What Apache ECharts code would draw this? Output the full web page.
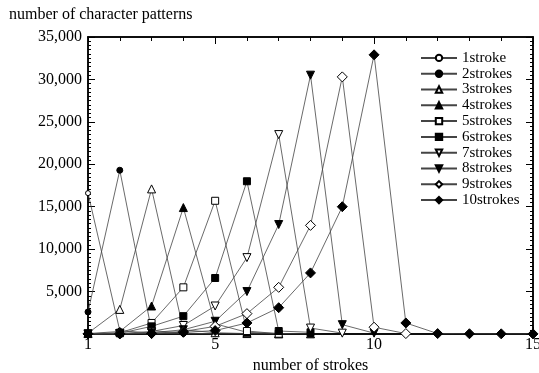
<!DOCTYPE html>
<html>
<head>
<meta charset="utf-8">
<script src="https://cdn.jsdelivr.net/npm/echarts@6/dist/echarts.min.js"></script>
<style>
  html, body { margin: 0; padding: 0; background: #fff; }
  #chart { width: 539px; height: 373px; }
</style>
</head>
<body>
<div id="chart"></div>
<script>
// x categories: number of strokes
const strokes = [1, 2, 3, 4, 5, 6, 7, 8, 9, 10, 11, 12, 13, 14, 15];
const xLabelValues = [1, 5, 10, 15];
const xLongTickValues = [5, 10, 15];
const yTickValues = [0, 5000, 10000, 15000, 20000, 25000, 30000, 35000];

// counts per series, the series stops where its list ends
const s1 = [16600, 400, 100, 30, 10];
const s2 = [2600, 19300, 400, 100, 30, 10];
const s3 = [100, 2900, 17100, 500, 150, 50, 10];
const s4 = [50, 300, 3300, 14900, 1200, 200, 60, 20];
const s5 = [30, 150, 1300, 5500, 15700, 350, 30];
const s6 = [20, 80, 900, 2100, 6600, 18000, 350, 200];
const s7 = [10, 50, 300, 1000, 3300, 9000, 23500, 700, 100];
const s8 = [10, 30, 150, 500, 1500, 5000, 12900, 30500, 1100, 100];
const s9 = [10, 20, 80, 300, 900, 2400, 5500, 12800, 30300, 800, 50];
const s10 = [10, 10, 50, 200, 400, 1300, 3100, 7200, 15000, 32900, 1300, 50, 30, 20, 10];

const seriesNames = ['1stroke', '2strokes', '3strokes', '4strokes', '5strokes',
  '6strokes', '7strokes', '8strokes', '9strokes', '10strokes'];
const seriesValues = [s1, s2, s3, s4, s5, s6, s7, s8, s9, s10];

// minor y ticks every 500
const yMinorTickValues = [];
for (let v = 0; v <= 35000; v += 500) yMinorTickValues.push(v);

const FONT = '"Liberation Serif", "Times New Roman", serif';

// marker look per series: [symbol, size, filled, rotate]
const markers = [
  ['circle', 5, false, 0],
  ['circle', 6, true, 0],
  ['triangle', 8, false, 0],
  ['triangle', 8, true, 0],
  ['rect', 7, false, 0],
  ['rect', 7, true, 0],
  ['triangle', 8, false, 180],
  ['triangle', 8, true, 180],
  ['diamond', 10, false, 0],
  ['diamond', 10, true, 0]
];

const makeSeries = (name, values, m) => ({
  name,
  type: 'line',
  data: values.map((v, i) => [strokes[i], v]),
  symbol: m[0],
  symbolSize: m[1],
  symbolRotate: m[3],
  showAllSymbol: true,
  lineStyle: { color: '#444', width: 0.8 },
  itemStyle: { color: m[2] ? '#000' : '#fff', borderColor: '#000', borderWidth: 1 },
  emphasis: { disabled: true },
  animation: false
});

const tickStyle = { color: '#000', width: 1 };

// tick-only axes that sit on the frame
const xTickAxis = (pos, values, len) => ({
  type: 'value', position: pos, min: 1, max: 15,
  axisLine: { show: true, onZero: false, lineStyle: { color: '#000', width: 1.5 } },
  axisTick: { show: true, inside: true, length: len, customValues: values, lineStyle: tickStyle },
  axisLabel: { show: false },
  splitLine: { show: false }
});

const yTickAxis = (pos, values, len) => ({
  type: 'value', position: pos, min: 0, max: 35000,
  axisLine: { show: true, onZero: false, lineStyle: { color: '#000', width: 1.5 } },
  axisTick: { show: true, inside: true, length: len, customValues: values, lineStyle: tickStyle },
  axisLabel: { show: false },
  splitLine: { show: false }
});

const chart = echarts.init(document.getElementById('chart'), null, { renderer: 'canvas' });
chart.setOption({
  animation: false,
  title: {
    text: 'number of character patterns',
    left: 4, top: 2,
    textStyle: { fontFamily: FONT, fontSize: 16, fontWeight: 'normal', color: '#000' }
  },
  grid: { left: 88, right: 6, top: 37, bottom: 39, outerBoundsMode: 'none', containLabel: false },
  legend: {
    data: seriesNames,
    orient: 'vertical',
    left: 415, top: 45,
    itemWidth: 36, itemHeight: 8, itemGap: 0,
    symbolRotate: 'inherit',
    textStyle: { fontFamily: FONT, fontSize: 15, color: '#000', lineHeight: 15.8 }
  },
  xAxis: [
    {
      type: 'value', min: 1, max: 15, interval: 1, position: 'bottom',
      name: 'number of strokes', nameLocation: 'middle', nameGap: 22,
      nameTextStyle: { fontFamily: FONT, fontSize: 16, color: '#000' },
      axisLine: { show: true, onZero: false, lineStyle: { color: '#000', width: 1.5 } },
      axisTick: { show: true, inside: true, length: 4, customValues: strokes, lineStyle: tickStyle },
      axisLabel: {
        show: true, customValues: xLabelValues,
        fontFamily: FONT, fontSize: 16, color: '#000', margin: 3,
        formatter: v => String(v)
      },
      splitLine: { show: false }
    },
    xTickAxis('top', strokes, 4),
    xTickAxis('bottom', xLongTickValues, 7),
    xTickAxis('top', xLongTickValues, 7)
  ],
  yAxis: [
    {
      type: 'value', min: 0, max: 35000, interval: 5000, position: 'left',
      axisLine: { show: true, onZero: false, lineStyle: { color: '#000', width: 1.5 } },
      axisTick: { show: true, inside: true, length: 7, customValues: yTickValues, lineStyle: tickStyle },
      axisLabel: {
        show: true,
        fontFamily: FONT, fontSize: 16, color: '#000', margin: 6,
        formatter: v => (v === 0 ? '' : v.toLocaleString('en-US'))
      },
      splitLine: { show: false }
    },
    yTickAxis('right', yTickValues, 7),
    yTickAxis('left', yMinorTickValues, 3),
    yTickAxis('right', yMinorTickValues, 3)
  ],
  series: seriesValues.map((vals, i) => makeSeries(seriesNames[i], vals, markers[i]))
});
</script>
</body>
</html>
